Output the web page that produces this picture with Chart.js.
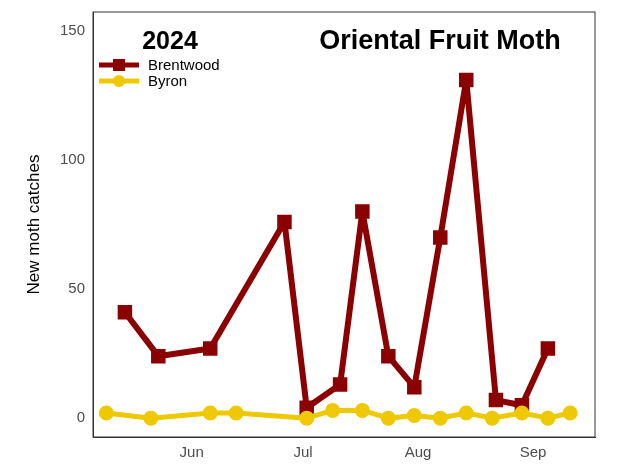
<!DOCTYPE html>
<html><head><meta charset="utf-8">
<script src="https://cdn.jsdelivr.net/npm/chart.js@4"></script>
<style>html,body{margin:0;background:#fff}#w{width:640px;height:469px}</style>
</head><body><div id="w"><canvas id="c"></canvas></div>
<script>
// x = days relative to June 1, 2024
const brentwoodDays = [-18, -9, 5, 25, 31, 40, 46, 53, 60, 67, 74, 82, 89, 96];
const brentwoodVals = [41, 24, 27, 76, 4, 13, 80, 24, 12, 70, 131, 7, 5, 27];
const byronDays = [-23, -11, 5, 12, 31, 38, 46, 53, 60, 67, 74, 81, 89, 96, 102];
const byronVals = [2, 0, 2, 2, 0, 3, 3, 0, 1, 0, 2, 0, 2, 0, 2];
const monthTicks = [0, 30, 61, 92];
const monthLabels = ['Jun', 'Jul', 'Aug', 'Sep'];
const yTicks = [0, 50, 100, 150];

const red = '#8B0000', yel = '#EEC900';
const deco = {
  id: 'deco',
  afterDraw(ch) {
    const c = ch.ctx, a = ch.chartArea;
    c.save();
    c.strokeStyle = '#333'; c.lineWidth = 1;
    c.strokeRect(a.left, a.top, a.right - a.left, a.bottom - a.top);
    c.fillStyle = '#000'; c.textBaseline = 'middle';
    c.font = 'bold 25px "Liberation Sans", Arial';
    c.textAlign = 'center';
    c.fillText('2024', 170, 42);
    c.font = 'bold 27px "Liberation Sans", Arial';
    c.fillText('Oriental Fruit Moth', 440, 42);
    c.font = '15px "Liberation Sans", Arial'; c.textAlign = 'left';
    const items = [[red, 'Brentwood', 'rect', 65], [yel, 'Byron', 'circle', 81]];
    for (const [col, lab, sh, y] of items) {
      c.strokeStyle = col; c.fillStyle = col; c.lineWidth = 5;
      c.beginPath(); c.moveTo(99, y); c.lineTo(139, y); c.stroke();
      if (sh === 'rect') c.fillRect(113, y - 6, 12, 12);
      else { c.beginPath(); c.arc(119, y, 6, 0, Math.PI * 2); c.fill(); }
      c.fillStyle = '#000'; c.fillText(lab, 148, y + 1);
    }
    c.restore();
  }
};
new Chart(document.getElementById('c'), {
  type: 'line',
  data: {
    datasets: [
      { label: 'Byron', data: byronDays.map((d, i) => ({ x: d, y: byronVals[i] })),
        borderColor: yel, backgroundColor: yel, borderWidth: 5, pointRadius: 5, pointStyle: 'circle', tension: 0, borderJoinStyle: 'round' },
      { label: 'Brentwood', data: brentwoodDays.map((d, i) => ({ x: d, y: brentwoodVals[i] })),
        borderColor: red, backgroundColor: red, borderWidth: 6, pointRadius: 6, pointStyle: 'rect', tension: 0, borderJoinStyle: 'round' }
    ]
  },
  options: {
    responsive: true, maintainAspectRatio: false, animation: false,
    layout: { padding: { top: 8, right: 45, left: 24, bottom: 0 } },
    plugins: { legend: { display: false }, tooltip: { enabled: false } },
    scales: {
      x: { type: 'linear', min: -26.6, max: 108.7,
        afterBuildTicks: s => { s.ticks = monthTicks.map(v => ({ value: v })); },
        afterFit: s => { s.height = 32; },
        ticks: { callback: v => monthLabels[monthTicks.indexOf(v)], color: '#4d4d4d', font: { size: 15, family: 'Liberation Sans' }, maxRotation: 0, autoSkip: false, padding: 2 },
        grid: { display: false, drawTicks: true, tickLength: 5, tickColor: '#333' }, border: { color: '#333' } },
      y: { min: -7.3, max: 157.3,
        afterBuildTicks: s => { s.ticks = yTicks.map(v => ({ value: v })); },
        afterFit: s => { s.width = 69; },
        ticks: { color: '#4d4d4d', font: { size: 15, family: 'Liberation Sans' } },
        grid: { display: false, tickLength: 5, tickColor: '#333' }, border: { color: '#333' },
        title: { display: true, text: 'New moth catches', font: { size: 17, family: 'Liberation Sans' }, color: '#000', padding: 0 } }
    }
  },
  plugins: [deco]
});
</script></body></html>
